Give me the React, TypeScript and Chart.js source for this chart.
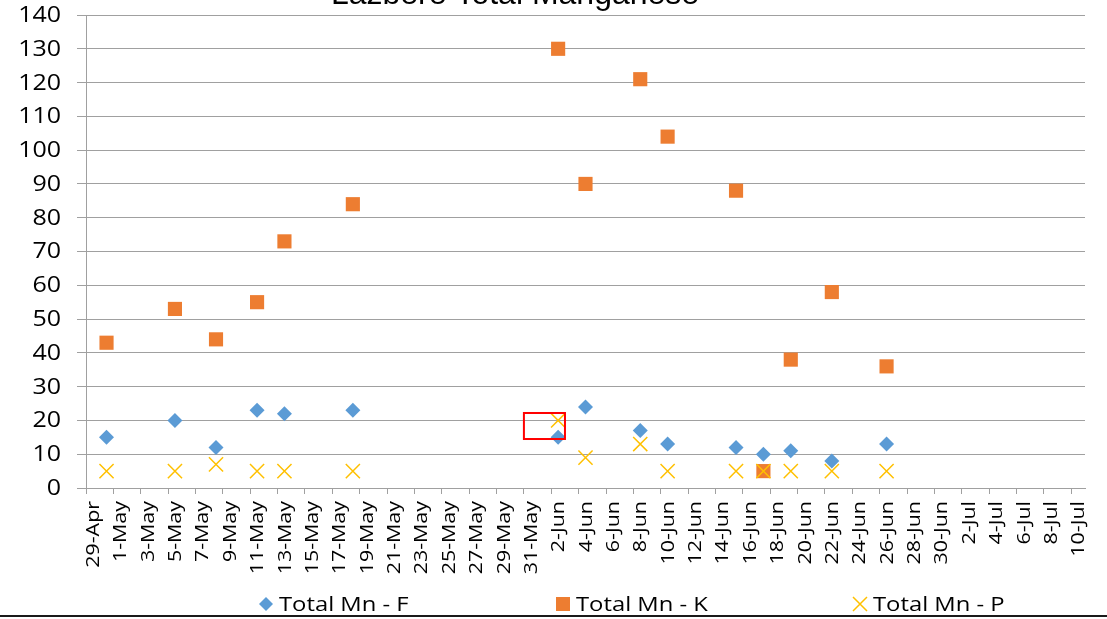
import React, { useEffect, useRef } from 'react';
import { Chart, registerables } from 'chart.js';

Chart.register(...registerables);

const chartTitle = 'Lazbere Total Manganese';
const seriesNames = ['Total Mn - F', 'Total Mn - K', 'Total Mn - P'];
const seriesColors = ['#5B9BD5', '#ED7D31', '#FFC000'];

const sampleDates = ['30-Apr', '5-May', '8-May', '11-May', '13-May', '18-May', '2-Jun', '4-Jun', '8-Jun', '10-Jun', '15-Jun', '17-Jun', '19-Jun', '22-Jun', '26-Jun'];
const mnF = [15, 20, 12, 23, 22, 23, 15, 24, 17, 13, 12, 10, 11, 8, 13];
const mnK = [43, 53, 44, 55, 73, 84, 130, 90, 121, 104, 88, 5, 38, 58, 36];
const mnP = [5, 5, 7, 5, 5, 5, 20, 9, 13, 5, 5, 5, 5, 5, 5];

const xTickLabels = [
  '29-Apr', '1-May', '3-May', '5-May', '7-May', '9-May', '11-May', '13-May', '15-May', '17-May',
  '19-May', '21-May', '23-May', '25-May', '27-May', '29-May', '31-May', '2-Jun', '4-Jun', '6-Jun',
  '8-Jun', '10-Jun', '12-Jun', '14-Jun', '16-Jun', '18-Jun', '20-Jun', '22-Jun', '24-Jun', '26-Jun',
  '28-Jun', '30-Jun', '2-Jul', '4-Jul', '6-Jul', '8-Jul', '10-Jul',
];
const yMin = 0;
const yMax = 140;
const yStep = 10;

// red highlight box (in axis units: day slots and Mn values)
const highlightDays = [32, 35];
const highlightValues = [14.5, 22.2];

const MONTHS: Record<string, number> = { Apr: 3, May: 4, Jun: 5, Jul: 6 };
const toUTC = (label: string) => {
  const [d, m] = label.split('-');
  return Date.UTC(2000, MONTHS[m], +d);
};
const dayIndex = (label: string) => (toUTC(label) - toUTC(xTickLabels[0])) / 86400000;

const GRID = '#a0a0a0';
const FONT = "'Open Sans', sans-serif";
const STRETCH = 1.19;

export default function App() {
  const ref = useRef<HTMLCanvasElement | null>(null);

  useEffect(() => {
    if (!ref.current) return;
    const toPoints = (vals: number[]) => vals.map((v, i) => ({ x: dayIndex(sampleDates[i]) + 0.5, y: v }));

    const overlay = {
      id: 'overlay',
      afterDraw(chart: any) {
        const ctx = chart.ctx;
        const xs = chart.scales.x;
        const ys = chart.scales.y;
        ctx.save();
        ctx.fillStyle = '#000';

        // y tick labels (wide text)
        ctx.font = `21px ${FONT}`;
        ctx.textAlign = 'right';
        ctx.textBaseline = 'middle';
        ys.ticks.forEach((t: any) => {
          const py = ys.getPixelForValue(t.value);
          ctx.save();
          ctx.translate(61, py + 1);
          ctx.scale(STRETCH, 1);
          ctx.fillText(String(t.value), 0, 0);
          ctx.restore();
        });

        // x tick labels, rotated, centred on each day slot
        ctx.font = `18px ${FONT}`;
        xs.ticks.forEach((t: any) => {
          const label = xTickLabels[Math.round(t.value / 2)];
          if (!label) return;
          const px = xs.getPixelForValue(t.value + 0.5);
          ctx.save();
          ctx.translate(px + 1, 501);
          ctx.rotate(-Math.PI / 2);
          ctx.scale(STRETCH, 1);
          ctx.textAlign = 'right';
          ctx.textBaseline = 'middle';
          ctx.fillText(label, 0, 0);
          ctx.restore();
        });

        // highlight box
        const x1 = xs.getPixelForValue(highlightDays[0]);
        const x2 = xs.getPixelForValue(highlightDays[1]);
        const y1 = ys.getPixelForValue(highlightValues[1]);
        const y2 = ys.getPixelForValue(highlightValues[0]);
        ctx.strokeStyle = '#FF0000';
        ctx.lineWidth = 2;
        ctx.strokeRect(x1, y1, x2 - x1, y2 - y1);

        // title (clipped at top)
        ctx.fillStyle = '#000';
        ctx.font = "32px 'Liberation Sans', Arial, sans-serif";
        ctx.textAlign = 'center';
        ctx.textBaseline = 'alphabetic';
        ctx.fillText(chartTitle, 515, 4);

        // legend
        const ly = 604;
        const centers = [266, 563, 860];
        ctx.font = `20px ${FONT}`;
        ctx.textAlign = 'left';
        ctx.textBaseline = 'middle';
        centers.forEach((cx, i) => {
          ctx.fillStyle = seriesColors[i];
          ctx.strokeStyle = seriesColors[i];
          if (i === 0) {
            ctx.beginPath();
            ctx.moveTo(cx - 7, ly);
            ctx.lineTo(cx, ly - 7);
            ctx.lineTo(cx + 7, ly);
            ctx.lineTo(cx, ly + 7);
            ctx.closePath();
            ctx.fill();
          } else if (i === 1) {
            ctx.fillRect(cx - 7, ly - 7, 14, 14);
          } else {
            ctx.lineWidth = 1.5;
            ctx.beginPath();
            ctx.moveTo(cx - 7, ly - 7);
            ctx.lineTo(cx + 7, ly + 7);
            ctx.moveTo(cx + 7, ly - 7);
            ctx.lineTo(cx - 7, ly + 7);
            ctx.stroke();
          }
          ctx.fillStyle = '#000';
          ctx.save();
          ctx.translate(cx + 13, ly + 1);
          ctx.scale(STRETCH, 1);
          ctx.fillText(seriesNames[i], 0, 0);
          ctx.restore();
        });

        // bottom border line
        ctx.fillStyle = '#1a1a1a';
        ctx.fillRect(0, 615, chart.width, 2);
        ctx.restore();
      },
    };

    const chart = new Chart(ref.current, {
      type: 'scatter',
      data: {
        datasets: [
          {
            label: seriesNames[0],
            data: toPoints(mnF),
            pointStyle: 'rectRot',
            pointRadius: 7.5,
            backgroundColor: seriesColors[0],
            borderColor: seriesColors[0],
            borderWidth: 0,
            order: 2,
          },
          {
            label: seriesNames[1],
            data: toPoints(mnK),
            pointStyle: 'rect',
            pointRadius: 10,
            backgroundColor: seriesColors[1],
            borderColor: seriesColors[1],
            borderWidth: 0,
            order: 1,
          },
          {
            label: seriesNames[2],
            data: toPoints(mnP),
            pointStyle: 'crossRot',
            pointRadius: 10,
            backgroundColor: seriesColors[2],
            borderColor: seriesColors[2],
            borderWidth: 1.5,
            order: 0,
          },
        ],
      },
      options: {
        responsive: false,
        animation: false,
        layout: { padding: { top: 15, right: 22, bottom: 31, left: 0 } },
        plugins: {
          legend: { display: false },
          tooltip: { enabled: false },
          title: { display: false },
        },
        scales: {
          x: {
            type: 'linear',
            min: 0,
            max: xTickLabels.length * 2 - 1,
            afterBuildTicks: (scale: any) => {
              scale.ticks = xTickLabels.map((_, i) => ({ value: i * 2 }));
            },
            afterFit: (scale: any) => {
              scale.height = 100;
              scale.paddingLeft = 0;
              scale.paddingRight = 0;
            },
            ticks: {
              autoSkip: false,
              minRotation: 90,
              maxRotation: 90,
              padding: 8,
              color: 'rgba(0,0,0,0)',
              font: { family: FONT, size: 18 },
              callback: (value: any) => xTickLabels[Math.round(Number(value) / 2)] ?? '',
            },
            grid: { drawOnChartArea: false, drawTicks: true, tickLength: 6, color: GRID },
            border: { display: true, color: GRID, width: 1 },
          },
          y: {
            min: yMin,
            max: yMax,
            afterFit: (scale: any) => {
              scale.width = 86;
              scale.paddingTop = 0;
              scale.paddingBottom = 0;
            },
            ticks: {
              stepSize: yStep,
              padding: 16,
              color: 'rgba(0,0,0,0)',
              font: { family: FONT, size: 21 },
            },
            grid: { color: GRID, tickLength: 9, drawTicks: true },
            border: { display: true, color: GRID, width: 1 },
          },
        },
      },
      plugins: [overlay],
    });
    return () => chart.destroy();
  }, []);

  return (
    <div style={{ position: 'fixed', left: 0, top: 0, width: 1107, height: 619, background: '#fff', overflow: 'hidden' }}>
      <canvas ref={ref} width={1107} height={619} style={{ display: 'block' }} />
    </div>
  );
}
